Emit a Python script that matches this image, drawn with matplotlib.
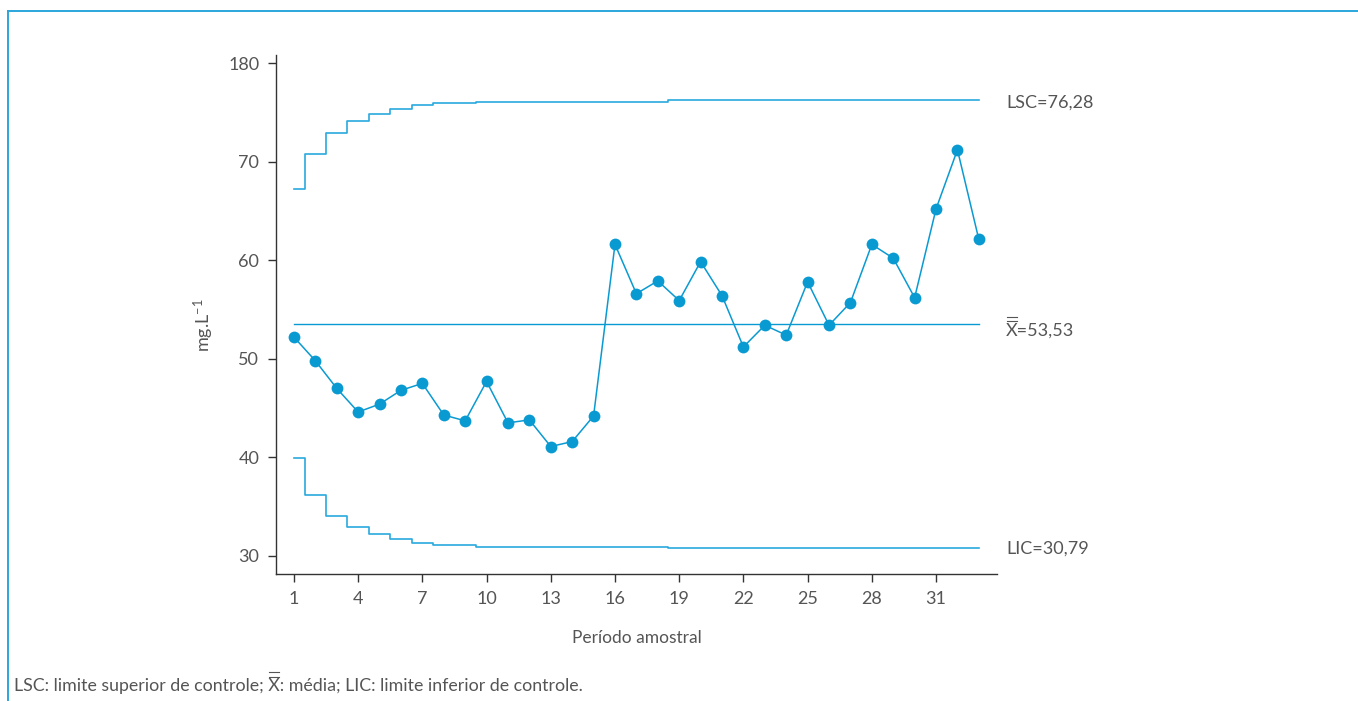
import matplotlib
matplotlib.use("Agg")
import matplotlib.pyplot as plt
from matplotlib.lines import Line2D

# ---------- data ----------
periods = list(range(1, 34))
values = [52.2, 49.8, 47.0, 44.6, 45.4, 46.8, 47.5, 44.3, 43.7, 47.7,
          43.5, 43.8, 41.1, 41.6, 44.2, 61.6, 56.6, 57.9, 55.9, 59.85,
          56.4, 51.2, 53.4, 52.4, 57.8, 53.4, 55.7, 61.6, 60.2, 56.2,
          65.2, 71.2, 62.1]
lsc = [67.2, 70.8, 72.95, 74.15, 74.85, 75.35, 75.7, 75.9, 75.95] + [76.08] * 9 + [76.28] * 15
lic = [39.95, 36.2, 34.1, 32.9, 32.2, 31.7, 31.35, 31.1, 31.1] + [30.95] * 9 + [30.79] * 15
mean_value = 53.53
y_ticks = [30, 40, 50, 60, 70, 80]
y_tick_labels = ["30", "40", "50", "60", "70", "180"]
x_ticks = [1, 4, 7, 10, 13, 16, 19, 22, 25, 28, 31]

BLUE = "#0a9ad2"
STEP_BLUE = "#2aa9de"
TEXT = "#555555"

plt.rcParams["font.family"] = ["Lato", "DejaVu Sans"]
plt.rcParams["mathtext.fontset"] = "custom"
plt.rcParams["mathtext.rm"] = "Lato"
plt.rcParams["mathtext.it"] = "Lato"

fig = plt.figure(figsize=(13.58, 7.01), dpi=100)
ax = fig.add_axes([0.2032, 0.1812, 0.531, 0.7403])

ax.plot(periods, lsc, drawstyle="steps-mid", color=STEP_BLUE, lw=1.2)
ax.plot(periods, lic, drawstyle="steps-mid", color=STEP_BLUE, lw=1.2)
ax.plot([periods[0], periods[-1]], [mean_value, mean_value], color=BLUE, lw=1.0)
ax.plot(periods, values, color=BLUE, lw=1.1, marker="o", ms=8.5,
        markeredgewidth=0)

ax.set_xlim(0.16, 33.85)
ax.set_ylim(28.17, 80.81)
ax.set_xticks(x_ticks)
ax.set_yticks(y_ticks)
ax.set_yticklabels(y_tick_labels)
ax.tick_params(axis="both", direction="out", length=6, width=1.0,
               colors="#333333", labelcolor=TEXT, labelsize=13, pad=6)
for side in ["top", "right"]:
    ax.spines[side].set_visible(False)
for side in ["left", "bottom"]:
    ax.spines[side].set_color("#333333")
    ax.spines[side].set_linewidth(1.0)

ax.set_xlabel("Período amostral", fontsize=12.5, color=TEXT, labelpad=17)
ax.set_ylabel(r"mg.L$^{-1}$", fontsize=13, color=TEXT)
ax.yaxis.set_label_coords(-0.083, 0.48)

# limit labels to the right of the lines
ax.text(34.28, lsc[-1] - 0.3, "LSC=76,28", fontsize=13, color=TEXT,
        va="center", clip_on=False)
mean_txt = ax.text(34.28, mean_value - 0.7, "X=53,53", fontsize=13, color=TEXT,
                   va="center", clip_on=False)
ax.text(34.28, lic[-1], "LIC=30,79", fontsize=13, color=TEXT, va="center",
        clip_on=False)

footer = "LSC: limite superior de controle; X: média; LIC: limite inferior de controle."
foot_txt = fig.text(0.0103, 0.021, footer, fontsize=12.8, color=TEXT, va="center")

# frame around the figure (top and left edges)
fig.add_artist(Line2D([0.0062, 1.0], [0.984, 0.984], color="#2ba6dc", lw=1.4,
                      transform=fig.transFigure))
fig.add_artist(Line2D([0.0062, 0.0062], [0.0, 0.984], color="#2ba6dc", lw=1.4,
                      transform=fig.transFigure))


def double_bar(txt, prefix):
    # draw the two bars of X-double-bar over the "X" that follows prefix
    renderer = fig.canvas.get_renderer()
    full = txt.get_window_extent(renderer)
    probe = fig.text(0, 0, prefix + "X", fontsize=txt.get_fontsize())
    w_with = probe.get_window_extent(renderer).width
    probe.set_text("X")
    bb_x = probe.get_window_extent(renderer)
    probe.remove()
    x1 = full.x0 + w_with
    x0 = x1 - bb_x.width
    cap_top = full.y1 - 0.18 * bb_x.height
    for dy in (4.5, 9.0):
        y = cap_top + dy
        (fx0, fy), (fx1, _) = fig.transFigure.inverted().transform(
            [(x0 + 1.2, y), (x1 - 1.2, y)])
        fig.add_artist(Line2D([fx0, fx1], [fy, fy], color=TEXT, lw=0.8,
                              transform=fig.transFigure))


fig.canvas.draw()
double_bar(mean_txt, "")
double_bar(foot_txt, "LSC: limite superior de controle; ")

fig.savefig("out.png", dpi=100)
